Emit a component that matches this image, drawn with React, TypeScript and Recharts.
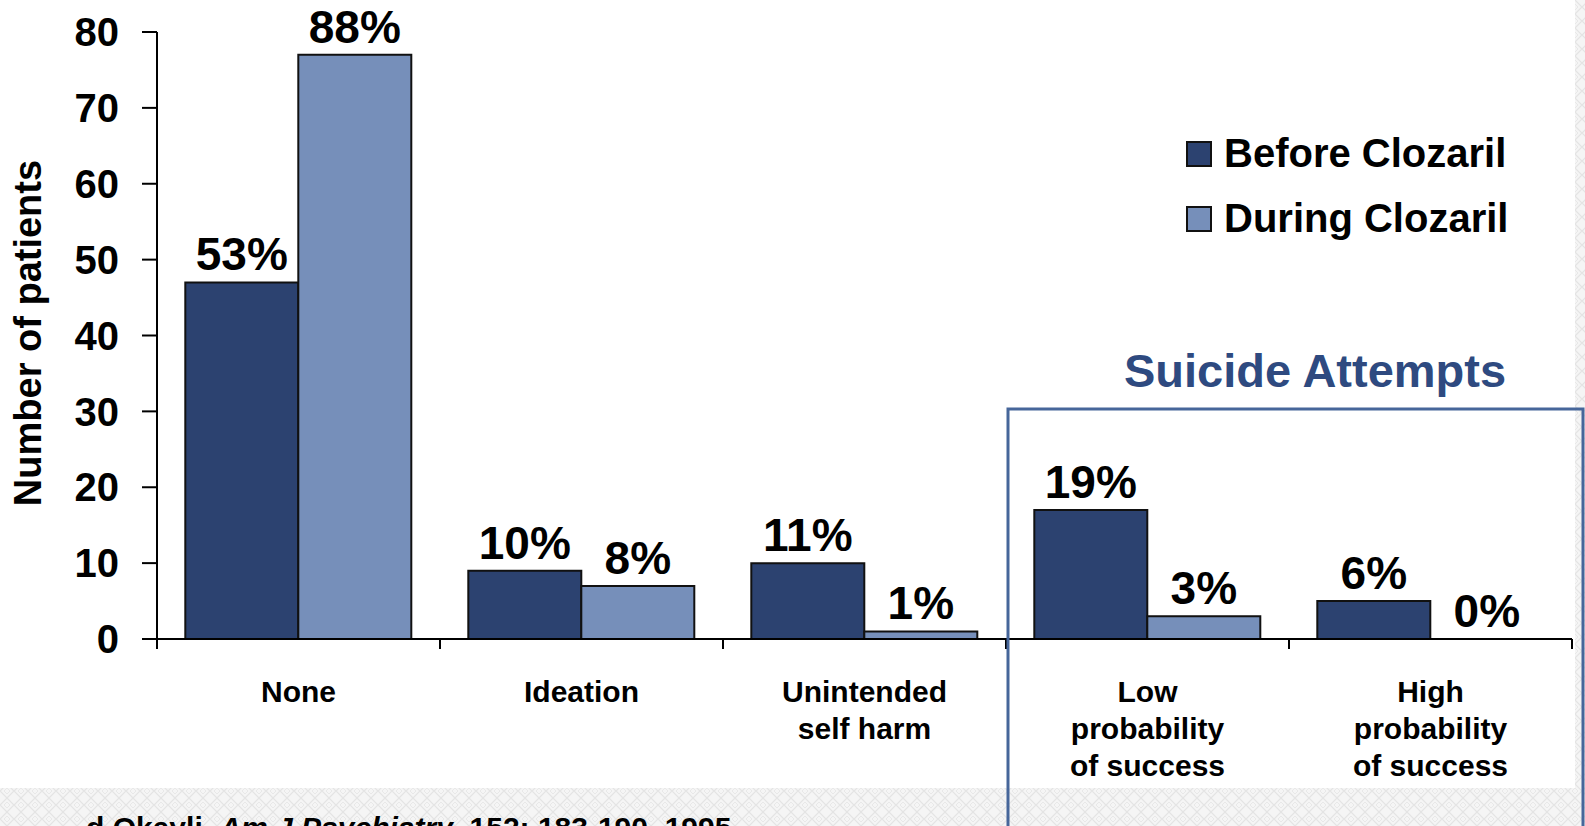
import React from 'react';
import { BarChart, Bar, XAxis, YAxis, LabelList, Cell } from 'recharts';

const categories = ['None', 'Ideation', 'Unintended self harm', 'Low probability of success', 'High probability of success'];
const categoryLines = [['None'], ['Ideation'], ['Unintended', 'self harm'], ['Low', 'probability', 'of success'], ['High', 'probability', 'of success']];
const beforeValues = [47, 9, 10, 17, 5];
const duringValues = [77, 7, 1, 3, 0];
const beforeLabels = ['53%', '10%', '11%', '19%', '6%'];
const duringLabels = ['88%', '8%', '1%', '3%', '0%'];
const yTicks = [0, 10, 20, 30, 40, 50, 60, 70, 80];
const seriesNames = ['Before Clozaril', 'During Clozaril'];
const seriesColors = ['#2C4270', '#768FBA'];

const W = 1585;
const H = 826;
const LEFT = 157;
const RIGHT = 13;
const TOP = 32;
const XAXIS_H = 187;
const HALF_BAND = (W - LEFT - RIGHT) / categories.length / 2;
const FONT = '"Liberation Sans", Arial, Helvetica, sans-serif';

const data = categories.map((name, i) => ({
  name,
  before: beforeValues[i],
  during: duringValues[i],
  beforeLabel: beforeLabels[i],
  duringLabel: duringLabels[i],
}));

const XTick = (props: any) => {
  const { x, y, payload, index } = props;
  const idx = typeof payload?.index === 'number' ? payload.index : index;
  const lines = categoryLines[idx] || [String(payload?.value)];
  return (
    <g>
      <line x1={x - HALF_BAND} x2={x - HALF_BAND} y1={y} y2={y + 10} stroke="#000" strokeWidth={2} />
      {idx === categories.length - 1 && (
        <line x1={x + HALF_BAND} x2={x + HALF_BAND} y1={y} y2={y + 10} stroke="#000" strokeWidth={2} />
      )}
      <text x={x} y={y + 63} textAnchor="middle" fontSize={30} fontWeight={700} fill="#000" fontFamily={FONT}>
        {lines.map((l: string, k: number) => (
          <tspan key={k} x={x} dy={k === 0 ? 0 : 37}>{l}</tspan>
        ))}
      </text>
    </g>
  );
};

const PctLabel = (props: any) => {
  const { x, y, width, height, value } = props;
  const top = Math.min(y, y + (height || 0));
  const isZero = Math.abs(height || 0) < 2;
  return (
    <text x={x + width / 2} y={(isZero ? y + height : top) - 12} textAnchor="middle" fontSize={46} fontWeight={700} fill="#000" fontFamily={FONT}>
      {value}
    </text>
  );
};

export default function App() {
  return (
    <div style={{ position: 'absolute', left: 0, top: 0, width: W, height: H, background: '#fff', fontFamily: FONT, overflow: 'hidden' }}>
      <svg width={W} height={H} style={{ position: 'absolute', left: 0, top: 0 }}>
        <defs>
          <pattern id="diam" width="14" height="14" patternUnits="userSpaceOnUse">
            <rect width="14" height="14" fill="#f5f5f5" />
            <path d="M7 0 L14 7 L7 14 L0 7 Z" fill="none" stroke="#e4e4e4" strokeWidth="1.2" />
            <path d="M7 4 L10 7 L7 10 L4 7 Z" fill="none" stroke="#e8e8e8" strokeWidth="1" />
          </pattern>
        </defs>
        <rect x={0} y={788} width={W} height={H - 788} fill="url(#diam)" />
        <rect x={1575} y={0} width={W - 1575} height={H} fill="url(#diam)" />
      </svg>
      <div style={{ position: 'absolute', left: 0, top: 0 }}>
        <BarChart
          width={W}
          height={H}
          data={data}
          margin={{ top: TOP, right: RIGHT, bottom: 0, left: 0 }}
          barCategoryGap="10%"
          barGap={0}
        >
          <YAxis
            width={LEFT}
            domain={[0, 80]}
            ticks={yTicks}
            interval={0}
            tickSize={15}
            tickMargin={23}
            axisLine={{ stroke: '#000', strokeWidth: 2 }}
            tickLine={{ stroke: '#000', strokeWidth: 2 }}
            tick={{ fontSize: 40, fontWeight: 700, fill: '#000', fontFamily: FONT }}
          />
          <XAxis
            dataKey="name"
            height={XAXIS_H}
            interval={0}
            tickSize={0}
            tickMargin={0}
            tickLine={false}
            axisLine={{ stroke: '#000', strokeWidth: 2 }}
            tick={<XTick />}
          />
          <Bar dataKey="before" name={seriesNames[0]} fill={seriesColors[0]} stroke="#111" strokeWidth={2} isAnimationActive={false}>
            <LabelList dataKey="beforeLabel" content={<PctLabel />} />
          </Bar>
          <Bar dataKey="during" name={seriesNames[1]} fill={seriesColors[1]} stroke="#111" strokeWidth={2} minPointSize={1} isAnimationActive={false}>
            {duringValues.map((v, i) => (
              <Cell key={i} fill={v === 0 ? 'none' : seriesColors[1]} stroke={v === 0 ? 'none' : '#111'} />
            ))}
            <LabelList dataKey="duringLabel" content={<PctLabel />} />
          </Bar>
        </BarChart>
      </div>
      <svg width={W} height={H} style={{ position: 'absolute', left: 0, top: 0, pointerEvents: 'none' }}>
        {seriesNames.map((n, i) => (
          <g key={n}>
            <rect x={1187} y={142 + i * 65} width={24} height={24} fill={seriesColors[i]} stroke="#111" strokeWidth={2} />
            <text x={1224} y={167 + i * 65} fontSize={40} fontWeight={700} fill="#000" fontFamily={FONT}>{n}</text>
          </g>
        ))}
        <text x={41} y={333} transform="rotate(-90 41 333)" textAnchor="middle" fontSize={38} fontWeight={700} fill="#000" fontFamily={FONT}>
          Number of patients
        </text>
        <text x={1315} y={387} textAnchor="middle" fontSize={47} fontWeight={700} fill="#2E4A80" fontFamily={FONT}>
          Suicide Attempts
        </text>
        <path d={`M1008 ${H + 5} V409 H1583 V${H + 5}`} fill="none" stroke="#46669A" strokeWidth={3} />
        <text x={86} y={838} fontSize={30} fontWeight={700} fill="#000" fontFamily={FONT}>
          d Okayli, <tspan fontStyle="italic">Am J Psychiatry</tspan>, 152: 183-190, 1995
        </text>
      </svg>
    </div>
  );
}
